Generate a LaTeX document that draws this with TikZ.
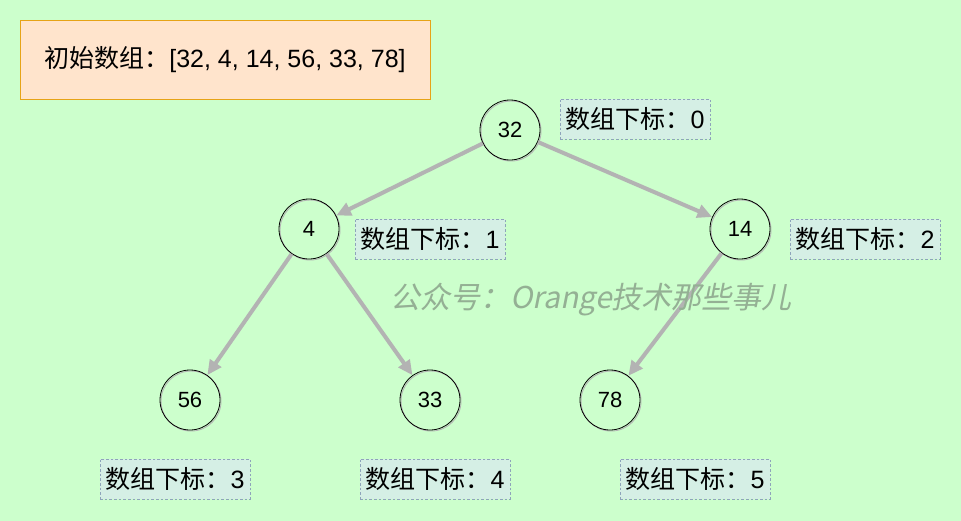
\documentclass[tikz,border=0pt]{standalone}
\usepackage{fontspec}
\setmainfont{Liberation Sans}
\newfontfamily\cjk{Noto Sans CJK SC}
\newfontfamily\wmfont[FakeSlant=0.2]{Noto Sans CJK SC}
\usetikzlibrary{arrows.meta,shadows}
\definecolor{bgc}{HTML}{CCFFCC}
\definecolor{boxfill}{HTML}{FFE4CC}
\definecolor{boxdraw}{HTML}{E6A317}
\definecolor{lblfill}{HTML}{D5EFE5}
\definecolor{lbldraw}{HTML}{8EA4BA}
\definecolor{edgec}{HTML}{B3B3B3}
\definecolor{wmc}{HTML}{94B094}
\tikzset{
  treenode/.style={circle, draw=black, line width=0.6pt, minimum size=60*0.75pt, inner sep=0pt,
    font=\fontsize{16.5pt}{19pt}\selectfont,
    general shadow={shadow xshift=0.8pt, shadow yshift=-0.8pt, draw=black!30, fill=none, line width=0.6pt}},
  idxlabel/.style={draw=lbldraw, dashed, dash pattern=on 2pt off 1.5pt, line width=0.5pt, fill=lblfill,
    minimum width=150*0.75pt, minimum height=40*0.75pt, inner sep=0pt,
    font=\fontsize{18.8pt}{22pt}\selectfont},
  titlebox/.style={draw=boxdraw, line width=0.6pt, fill=boxfill, minimum width=410*0.75pt,
    minimum height=79*0.75pt, inner sep=0pt, font=\fontsize{18.75pt}{22pt}\selectfont},
  treeedge/.style={draw=edgec, line width=3pt, -{Triangle[length=11pt, width=10pt]}},
}
\begin{document}
\begin{tikzpicture}[x=0.75pt, y=-0.75pt]
\fill[bgc] (0,0) rectangle (961,521);
\useasboundingbox (0,0) rectangle (961,521);

\node[titlebox] (title) at (225,59.5) {{\cjk 初始数组：}[32, 4, 14, 56, 33, 78]};

\node[treenode] (n0) at (510,130) {32};
\node[treenode] (n1) at (309,229) {4};
\node[treenode] (n2) at (740,229) {14};
\node[treenode] (n3) at (190,400) {56};
\node[treenode] (n4) at (430,400) {33};
\node[treenode] (n5) at (610,400) {78};

\node[idxlabel] (l0) at (635,119) {{\cjk 数组下标：}0};
\node[idxlabel] (l1) at (430,239) {{\cjk 数组下标：}1};
\node[idxlabel] (l2) at (865,239) {{\cjk 数组下标：}2};
\node[idxlabel] (l3) at (175,479) {{\cjk 数组下标：}3};
\node[idxlabel] (l4) at (435,479) {{\cjk 数组下标：}4};
\node[idxlabel] (l5) at (695,479) {{\cjk 数组下标：}5};

\draw[treeedge] (n0) -- (n1);
\draw[treeedge] (n0) -- (n2);
\draw[treeedge] (n1) -- (n3);
\draw[treeedge] (n1) -- (n4);
\draw[treeedge] (n2) -- (n5);

\node[text=wmc, font=\wmfont\fontsize{22.5pt}{26pt}\selectfont] (wm) at (591,300) {公众号：Orange技术那些事儿};
\end{tikzpicture}
\end{document}
